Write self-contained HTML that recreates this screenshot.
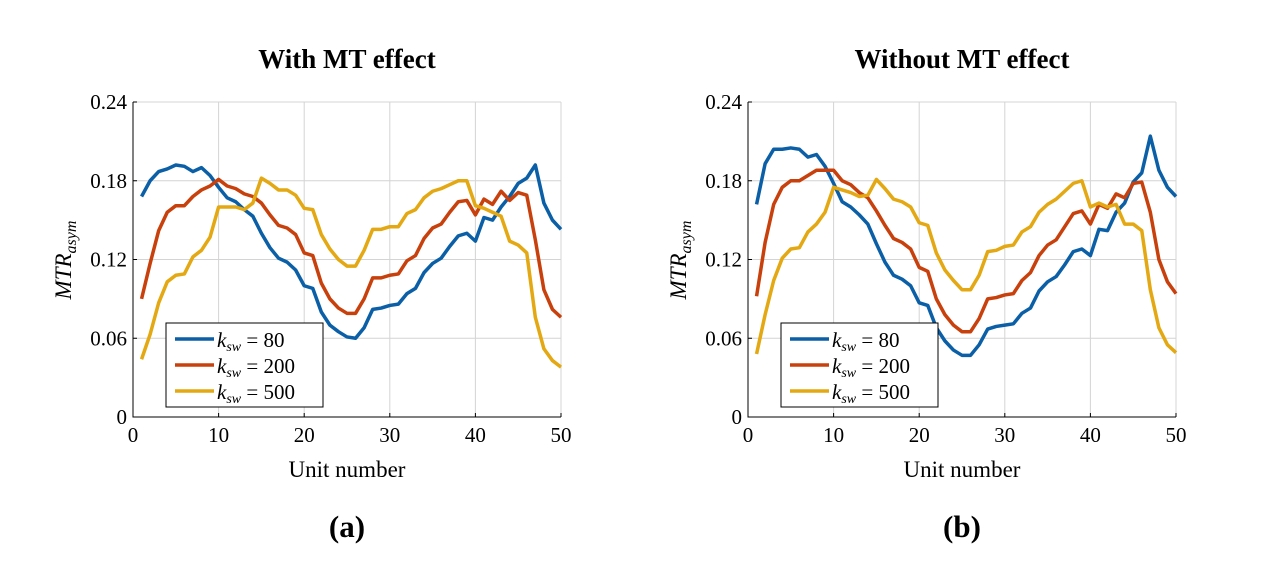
<!DOCTYPE html>
<html><head><meta charset="utf-8"><style>
body{margin:0;background:#fff;}
svg{display:block;font-family:"Liberation Serif",serif;}
</style></head><body>
<svg id="fig" width="1279" height="573" viewBox="0 0 1279 573" xmlns="http://www.w3.org/2000/svg"></svg>
<script>
const units = Array.from({length:50},(_,i)=>i+1);
const xTicks = [0,10,20,30,40,50];
const yTicks = [0,0.06,0.12,0.18,0.24];
const yTickLabels = ["0","0.06","0.12","0.18","0.24"];
const seriesNames = ["k80","k200","k500"];
const legendValues = ["80","200","500"];
const colors = ["#0a5fa6","#c8400c","#e3a812"];
const a80 = [0.168,0.180,0.187,0.189,0.192,0.191,0.187,0.190,0.184,0.175,0.167,0.164,0.158,0.153,0.140,0.129,0.121,0.118,0.112,0.100,0.098,0.080,0.070,0.065,0.061,0.060,0.068,0.082,0.083,0.085,0.086,0.094,0.098,0.110,0.117,0.121,0.130,0.138,0.140,0.134,0.152,0.150,0.160,0.168,0.178,0.182,0.192,0.163,0.150,0.143];
const a200 = [0.090,0.117,0.142,0.156,0.161,0.161,0.168,0.173,0.176,0.181,0.176,0.174,0.170,0.168,0.163,0.154,0.146,0.144,0.139,0.125,0.123,0.102,0.090,0.083,0.079,0.079,0.090,0.106,0.106,0.108,0.109,0.119,0.123,0.136,0.144,0.147,0.156,0.164,0.165,0.154,0.166,0.162,0.172,0.165,0.171,0.169,0.135,0.097,0.082,0.076];
const a500 = [0.044,0.063,0.087,0.103,0.108,0.109,0.122,0.127,0.137,0.160,0.160,0.160,0.158,0.163,0.182,0.178,0.173,0.173,0.169,0.159,0.158,0.139,0.128,0.120,0.115,0.115,0.127,0.143,0.143,0.145,0.145,0.155,0.158,0.167,0.172,0.174,0.177,0.180,0.180,0.161,0.159,0.156,0.153,0.134,0.131,0.125,0.076,0.052,0.043,0.038];
const b80 = [0.162,0.193,0.204,0.204,0.205,0.204,0.198,0.200,0.191,0.178,0.164,0.160,0.154,0.147,0.132,0.118,0.108,0.105,0.100,0.087,0.085,0.068,0.058,0.051,0.047,0.047,0.055,0.067,0.069,0.070,0.071,0.079,0.083,0.096,0.103,0.107,0.116,0.126,0.128,0.123,0.143,0.142,0.156,0.163,0.179,0.186,0.214,0.188,0.175,0.168];
const b200 = [0.092,0.133,0.162,0.175,0.180,0.180,0.184,0.188,0.188,0.188,0.180,0.177,0.171,0.167,0.157,0.146,0.136,0.133,0.128,0.114,0.111,0.090,0.078,0.070,0.065,0.065,0.075,0.090,0.091,0.093,0.094,0.104,0.110,0.123,0.131,0.135,0.145,0.155,0.157,0.147,0.162,0.159,0.170,0.167,0.178,0.179,0.156,0.120,0.103,0.094];
const b500 = [0.048,0.078,0.104,0.121,0.128,0.129,0.141,0.147,0.156,0.175,0.173,0.171,0.168,0.169,0.181,0.174,0.166,0.164,0.160,0.148,0.146,0.125,0.112,0.104,0.097,0.097,0.108,0.126,0.127,0.130,0.131,0.141,0.145,0.156,0.162,0.166,0.172,0.178,0.180,0.160,0.163,0.160,0.162,0.147,0.147,0.142,0.097,0.068,0.055,0.049];

const NS="http://www.w3.org/2000/svg";
const svg=document.getElementById('fig');
function mk(tag,attrs,parent,text){const e=document.createElementNS(NS,tag);for(const k in attrs)e.setAttribute(k,attrs[k]);if(text!==undefined)e.textContent=text;(parent||svg).appendChild(e);return e;}

function panel(id,x0,title,sub,data){
  const x1=x0+428, yT=102, yB=417;
  const sx=v=>x0+(v/50)*(x1-x0);
  const sy=v=>yB-(v/0.24)*(yB-yT);
  const g=mk('g',{});
  
  
  xTicks.forEach(t=>{const l=mk('line',{x1:sx(t),x2:sx(t),y1:yT,y2:yB,stroke:'#d4d4d4','stroke-width':1},g);
    });
  yTicks.forEach(t=>{const l=mk('line',{x1:x0,x2:x1,y1:sy(t),y2:sy(t),stroke:'#d4d4d4','stroke-width':1},g);
    });
  const ax=mk('path',{d:`M${x0},${yT}V${yB}H${x1}`,fill:'none',stroke:'#000','stroke-width':1},g);
  
  xTicks.forEach(t=>{mk('line',{x1:sx(t),x2:sx(t),y1:yB,y2:yB-4,stroke:'#000'},g);
    const tx=mk('text',{x:sx(t),y:yB+25,'text-anchor':'middle','font-size':21},g,String(t));
    });
  yTicks.forEach((t,i)=>{mk('line',{x1:x0,x2:x0+4,y1:sy(t),y2:sy(t),stroke:'#000'},g);
    const tx=mk('text',{x:x0-6,y:sy(t)+7,'text-anchor':'end','font-size':21},g,yTickLabels[i]);
    });
  data.forEach((d,si)=>{
    const p=mk('polyline',{points:units.map((u,i)=>sx(u)+','+sy(d[i])).join(' '),fill:'none',stroke:colors[si],'stroke-width':3.5,'stroke-linejoin':'round'},g);
    
    
  });
  const t=mk('text',{x:(x0+x1)/2,y:68,'text-anchor':'middle','font-size':27,'font-weight':'bold'},g,title);
  
  const xl=mk('text',{x:(x0+x1)/2,y:477,'text-anchor':'middle','font-size':23},g,'Unit number');
  
  const yl=mk('text',{transform:`translate(${x0-62},260) rotate(-90)`,'text-anchor':'middle','font-size':23,'font-style':'italic'},g);
  
  mk('tspan',{},yl,'MTR');mk('tspan',{'font-size':16,dy:5},yl,'asym');
  const sl=mk('text',{x:(x0+x1)/2,y:537,'text-anchor':'middle','font-size':31,'font-weight':'bold'},g,sub);
  
  const lg=mk('g',{},g);
  
  mk('rect',{x:x0+33,y:323,width:157,height:84,fill:'#fff',stroke:'#000','stroke-width':1},lg);
  legendValues.forEach((v,i)=>{
    const yy=339+i*26;
    const e=mk('g',{},lg);
    
    mk('line',{x1:x0+42,x2:x0+81,y1:yy,y2:yy,stroke:colors[i],'stroke-width':3.5},e);
    const tx=mk('text',{x:x0+84,y:yy+8,'font-size':21},e);
    mk('tspan',{'font-style':'italic'},tx,'k');
    mk('tspan',{'font-style':'italic','font-size':14,dy:4},tx,'sw');
    mk('tspan',{dy:-4},tx,' = '+v);
  });
}
panel('a',133,'With MT effect','(a)',[a80,a200,a500]);
panel('b',748,'Without MT effect','(b)',[b80,b200,b500]);
</script>
</body></html>
